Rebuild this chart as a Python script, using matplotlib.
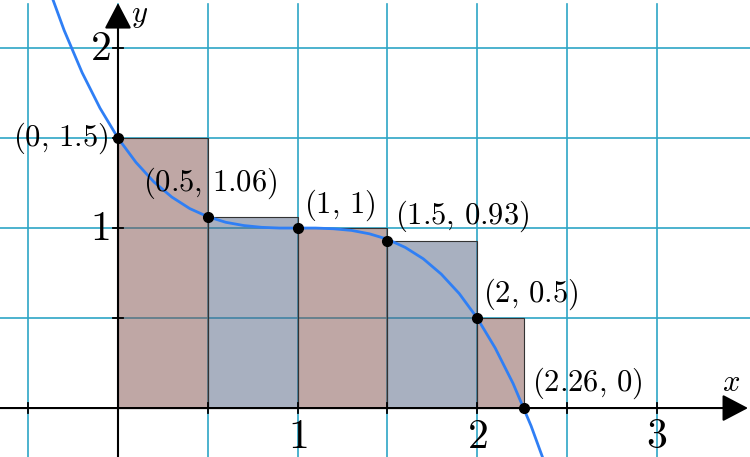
# Left-endpoint Riemann sum of a cubic on [0, 2.26], step 0.5.

import matplotlib
matplotlib.use("Agg")
import matplotlib.pyplot as plt
from matplotlib.patches import Rectangle

plt.rcParams["mathtext.fontset"] = "cm"

# curve
curve_x = [-0.4, -0.3, -0.2, -0.1, 0.0, 0.1, 0.2, 0.3, 0.4, 0.5, 0.6, 0.7, 0.8, 0.9,
           1.0, 1.1, 1.2, 1.3, 1.4, 1.5, 1.6, 1.7, 1.8, 1.9, 2.0, 2.1, 2.2, 2.3, 2.4]
curve_y = [2.372, 2.099, 1.864, 1.666, 1.5, 1.365, 1.256, 1.172, 1.108, 1.063, 1.032,
           1.014, 1.004, 1.000, 1.0, 1.000, 0.996, 0.987, 0.968, 0.938, 0.892, 0.829,
           0.744, 0.636, 0.5, 0.334, 0.136, -0.099, -0.372]

# rectangles of the sum
rect_left = [0.0, 0.5, 1.0, 1.5, 2.0]
rect_width = [0.5, 0.5, 0.5, 0.5, 0.26]
rect_height = [1.5, 1.06, 1.0, 0.93, 0.5]

# marked points and their labels
point_x = [0, 0.5, 1, 1.5, 2, 2.26]
point_y = [1.5, 1.06, 1, 0.93, 0.5, 0]
point_labels = ["(0,\\,1.5)", "(0.5,\\,1.06)", "(1,\\,1)", "(1.5,\\,0.93)",
                "(2,\\,0.5)", "(2.26,\\,0)"]

grid_x = [-0.5, 0, 0.5, 1, 1.5, 2, 2.5, 3]
grid_y = [0.5, 1, 1.5, 2]
x_ticks = [-0.5, 0.5, 1, 1.5, 2, 2.5, 3]
y_ticks = [0.5, 1, 1.5, 2]
x_tick_labels = {1: "1", 2: "2", 3: "3"}
y_tick_labels = {1: "1", 2: "2"}

XMIN, XMAX = -0.657, 3.519
YMIN, YMAX = -0.272, 2.267

GRID = "#2ea6c6"
BROWN = "#80504c"
SLATE = "#526282"
CURVE = "#2f7ff5"

fig = plt.figure(figsize=(7.5, 4.57), dpi=100)
ax = fig.add_axes([0, 0, 1, 1])
ax.set_xlim(XMIN, XMAX)
ax.set_ylim(YMIN, YMAX)
ax.axis("off")

for gx in grid_x:
    ax.plot([gx, gx], [YMIN, 2.245], color=GRID, lw=1.2, zorder=1)
for gy in grid_y:
    ax.axhline(gy, color=GRID, lw=1.2, zorder=1)

for i, (left, w, h) in enumerate(zip(rect_left, rect_width, rect_height)):
    face = BROWN if i % 2 == 0 else SLATE
    ax.add_patch(Rectangle((left, 0), w, h, facecolor=face, alpha=0.5,
                           edgecolor="none", zorder=2))
    ax.add_patch(Rectangle((left, 0), w, h, facecolor="none",
                           edgecolor="#333333", lw=0.8, zorder=2.1))

# axes with arrow heads
arrow = dict(arrowstyle="-|>,head_length=0.8,head_width=0.42", mutation_scale=20,
             lw=1.5, color="black", shrinkA=0, shrinkB=0)
ax.annotate("", xy=(3.508, 0), xytext=(XMIN, 0), arrowprops=arrow, zorder=3)
ax.annotate("", xy=(0, 2.25), xytext=(0, YMIN), arrowprops=arrow, zorder=3)

tick_dx = 5 / 179.6
tick_dy = 5 / 180
for t in x_ticks:
    ax.plot([t, t], [-tick_dy, tick_dy], color="black", lw=1.3, zorder=3)
for t in y_ticks:
    ax.plot([-tick_dx, tick_dx], [t, t], color="black", lw=1.3, zorder=3)
for t, s in x_tick_labels.items():
    ax.text(t, -0.155, f"${s}$", fontsize=30, ha="center", va="center", zorder=4)
for t, s in y_tick_labels.items():
    ax.text(-0.1, t, f"${s}$", fontsize=30, ha="center", va="center", zorder=4)
ax.text(3.415, 0.14, "$x$", fontsize=22, ha="center", va="center")
ax.text(0.12, 2.18, "$y$", fontsize=22, ha="center", va="center")

ax.plot(curve_x, curve_y, color=CURVE, lw=2.0, zorder=5)
ax.plot(point_x, point_y, "o", color="black", ms=7, zorder=6)

# label offsets in pixels from the point: (dx, dy, ha)
label_offsets = [(-10, 0, "right"), (-65, 34, "left"), (6, 23, "left"),
                 (8, 24, "left"), (6, 24, "left"), (8, 25, "left")]
for px, py, s, (dx, dy, ha) in zip(point_x, point_y, point_labels, label_offsets):
    ax.annotate(f"${s}$", (px, py), xytext=(dx * 0.72, dy * 0.72),
                textcoords="offset points", fontsize=22, ha=ha, va="center", zorder=7)

fig.savefig("out.png", dpi=100)
